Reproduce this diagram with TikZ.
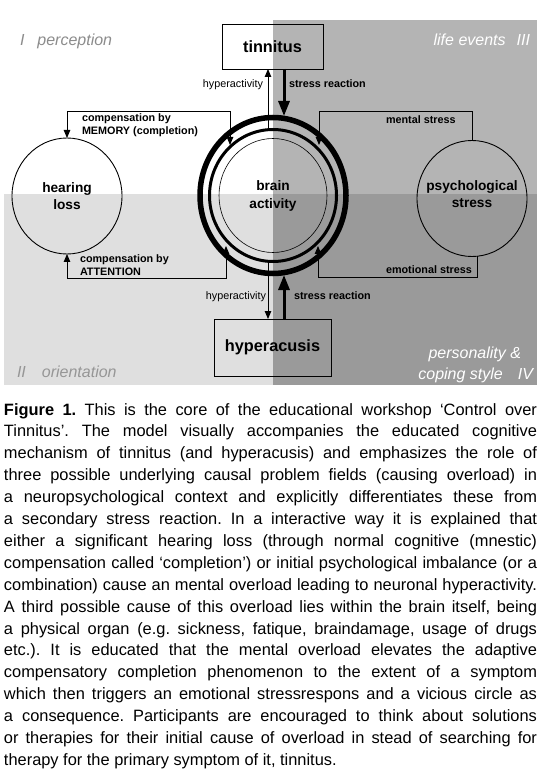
\documentclass[tikz,border=0pt]{standalone}
\usepackage{fontspec}
\setmainfont{Liberation Sans}
\usetikzlibrary{shapes.geometric,arrows.meta}
\definecolor{qtr}{HTML}{B4B4B4}
\definecolor{qbl}{HTML}{DFDFDF}
\definecolor{qbr}{HTML}{9A9A9A}
\definecolor{qlab}{HTML}{8C8C8C}
\definecolor{qlabb}{HTML}{969696}
\newcommand\capline[1]{\hbox to 533pt{#1}}
\begin{document}
\begin{tikzpicture}[x=1pt,y=-1pt,
  every node/.style={inner sep=0pt,outer sep=0pt},
  lab/.style={font=\fontsize{10.8}{13}\selectfont},
  blab/.style={font=\bfseries\fontsize{10.8}{13}\selectfont},
  qlabel/.style={font=\itshape\fontsize{16}{21}\selectfont},
  boxnode/.style={draw,line width=0.9pt,font=\bfseries\fontsize{16.3}{18}\selectfont},
  circ/.style={ellipse,draw,line width=0.9pt,minimum width=110pt,minimum height=116pt},
  ctext/.style={align=center,font=\bfseries\fontsize{13.7}{17.5}\selectfont},
  ringnode/.style={ellipse,draw},
  thinline/.style={line width=0.9pt},
  tip/.style={-{Triangle[length=8pt,width=6.5pt]}},
  tips/.style={{Triangle[length=8pt,width=6.5pt]}-{Triangle[length=8pt,width=6.5pt]}},
  stressarrow/.style={line width=3pt,-{Triangle[length=15pt,width=11pt]}},
  capt/.style={anchor=base west,font=\fontsize{16.4}{21.9}\selectfont\frenchspacing}
]
\useasboundingbox (0,0) rectangle (549,775);
\fill[white] (0,0) rectangle (549,775);
% quadrants
\fill[qtr] (273,20) rectangle (537,194);
\fill[qbl] (4,194) rectangle (273,385);
\fill[qbr] (273,194) rectangle (537,385);
% quadrant labels
\node[qlabel,text=qlab,anchor=base west] (q1) at (20,46) {I\hspace{13pt}perception};
\node[qlabel,text=white,anchor=base east] (q3) at (530,46) {life events\hspace{11pt}III};
\node[qlabel,text=qlabb,anchor=base west] (q2) at (17,377) {II\hspace{16pt}orientation};
\node[qlabel,text=white,anchor=base east] (q4a) at (521,358) {personality \&};
\node[qlabel,text=white,anchor=base east] (q4b) at (533,379) {coping style\hspace{15pt}IV};
% boxes
\node[boxnode,minimum width=101pt,minimum height=45pt] (tin) at (272.5,46.5) {tinnitus};
\node[boxnode,minimum width=117pt,minimum height=57pt] (hyp) at (272.5,347.5) {hyperacusis};
% brain rings
\node[ringnode,line width=5.5pt,minimum width=146pt,minimum height=156pt] (ringO) at (273,195.5) {};
\node[ringnode,line width=3pt,minimum width=127pt,minimum height=132pt] (ringM) at (273,195.5) {};
\node[ringnode,line width=0.6pt,minimum width=108pt,minimum height=114pt] (ringI) at (273,195.5) {};
\node[ctext] (brain) at (273,196) {brain\\activity};
% side circles
\node[circ] (hl) at (67,196) {};
\node[ctext] (hlt) at (67,196) {hearing\\loss};
\node[circ] (ps) at (472,198.5) {};
\node[ctext] (pst) at (472,194) {psychological\\stress};
% coordinates for connector ends
\coordinate (memT) at (230,111);
\coordinate (memE) at (230,145);
\coordinate (menT) at (319,111);
\coordinate (menE) at (319,145);
\coordinate (attB) at (226,278);
\coordinate (attE) at (226,246);
\coordinate (emoB) at (318,277);
\coordinate (emoE) at (318,246);
\coordinate (hT) at (268,129);
\coordinate (sT) at (284,116);
\coordinate (hB) at (268,262);
\coordinate (sB) at (284,275);
% brackets
\draw[thinline,tips] (hl.north) -- (hl.north |- memT) -- (memT) -- (memE);
\draw[thinline,tip] (ps.north) -- (ps.north |- menT) -- (menT) -- (menE);
\draw[thinline,tips] (attE) -- (attB) -- (hl.south |- attB) -- (hl.south);
\draw[thinline,tip] (ps.-85) -- (ps.-85 |- emoB) -- (emoB) -- (emoE);
% vertical arrows
\draw[thinline,tip] (hT) -- (hT |- tin.south);
\draw[stressarrow] (sT |- tin.south) -- (sT);
\draw[thinline,tip] (hB) -- (hB |- hyp.north);
\draw[stressarrow] (sB |- hyp.north) -- (sB);
% connector labels
\node[lab,anchor=base east] (hyT) at (263,88) {hyperactivity};
\node[blab,anchor=base west] (srT) at (289,88) {stress reaction};
\node[lab,anchor=base east] (hyB) at (266,299) {hyperactivity};
\node[blab,anchor=base west] (srB) at (294,299) {stress reaction};
\node[blab,anchor=base west] (memL1) at (82,122) {compensation by};
\node[blab,anchor=base west] (memL2) at (82,135) {MEMORY (completion)};
\node[blab,anchor=base west] (attL1) at (80,262.5) {compensation by};
\node[blab,anchor=base west] (attL2) at (80,275.5) {ATTENTION};
\node[blab,anchor=base west] (menL) at (386,124) {mental stress};
\node[blab,anchor=base west] (emoL) at (386,273) {emotional stress};
% caption
\node[capt] (c1) at (4,415.0) {\capline{\textbf{Figure 1.} This is the core of the educational workshop ‘Control over}};
\node[capt] (c2) at (4,436.9) {\capline{Tinnitus’. The model visually accompanies the educated cognitive}};
\node[capt] (c3) at (4,458.8) {\capline{mechanism of tinnitus (and hyperacusis) and emphasizes the role of}};
\node[capt] (c4) at (4,480.7) {\capline{three possible underlying causal problem fields (causing overload) in}};
\node[capt] (c5) at (4,502.6) {\capline{a neuropsychological context and explicitly differentiates these from}};
\node[capt] (c6) at (4,524.5) {\capline{a secondary stress reaction. In a interactive way it is explained that}};
\node[capt] (c7) at (4,546.4) {\capline{either a significant hearing loss (through normal cognitive (mnestic)}};
\node[capt] (c8) at (4,568.3) {\capline{compensation called ‘completion’) or initial psychological imbalance (or a}};
\node[capt] (c9) at (4,590.2) {\capline{combination) cause an mental overload leading to neuronal hyperactivity.}};
\node[capt] (c10) at (4,612.1) {\capline{A third possible cause of this overload lies within the brain itself, being}};
\node[capt] (c11) at (4,634.0) {\capline{a physical organ (e.g. sickness, fatique, braindamage, usage of drugs}};
\node[capt] (c12) at (4,655.9) {\capline{etc.). It is educated that the mental overload elevates the adaptive}};
\node[capt] (c13) at (4,677.8) {\capline{compensatory completion phenomenon to the extent of a symptom}};
\node[capt] (c14) at (4,699.7) {\capline{which then triggers an emotional stressrespons and a vicious circle as}};
\node[capt] (c15) at (4,721.6) {\capline{a consequence. Participants are encouraged to think about solutions}};
\node[capt] (c16) at (4,743.5) {\capline{or therapies for their initial cause of overload in stead of searching for}};
\node[capt] (c17) at (4,765.4) {therapy for the primary symptom of it, tinnitus.};
\end{tikzpicture}
\end{document}
